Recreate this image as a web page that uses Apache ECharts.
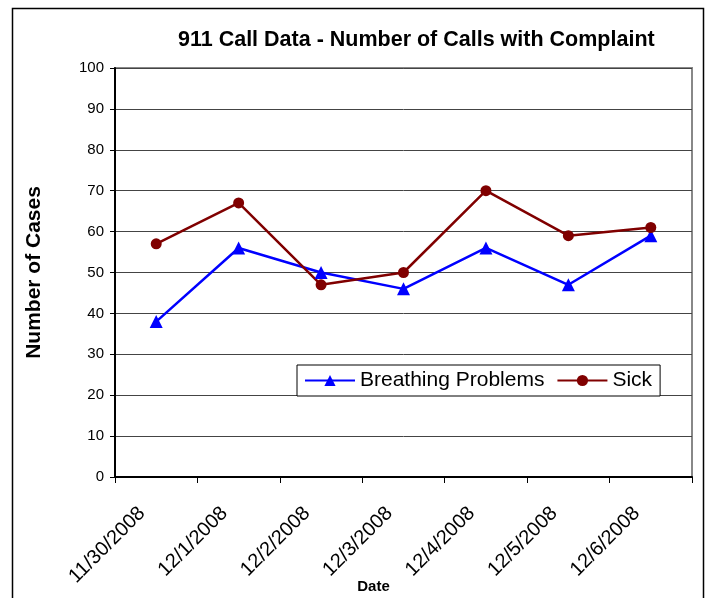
<!DOCTYPE html>
<html><head><meta charset="utf-8">
<script src="https://cdn.jsdelivr.net/npm/echarts@6/dist/echarts.min.js"></script>
<style>html,body{margin:0;padding:0;background:#fff}#c{width:706px;height:598px}</style>
</head><body><div id="c"></div>
<script>
const categories = ['11/30/2008','12/1/2008','12/2/2008','12/3/2008','12/4/2008','12/5/2008','12/6/2008'];
const breathing = [38, 56, 50, 46, 56, 47, 59];
const sick = [57, 67, 47, 50, 70, 59, 61];
const chart = echarts.init(document.getElementById('c'), null, {renderer:'canvas'});
const F = 'Arial, "Liberation Sans", sans-serif';
chart.setOption({
  animation:false,
  backgroundColor:'#fff',
  title:{text:'911 Call Data - Number of Calls with Complaint', left:173, top:24,
    textStyle:{fontFamily:F, fontSize:21.5, fontWeight:'bold', color:'#000'}},
  graphic:[
    {type:'polyline', shape:{points:[[12.5,598],[12.5,8.5],[703.5,8.5],[703.5,598]]}, style:{stroke:'#000', lineWidth:1.5, fill:null}}
  ],
  legend:{left:297, top:365, itemGap:12, padding:[5,8,5,7],
    borderColor:'#000', borderWidth:1, backgroundColor:'#fff',
    itemWidth:50, itemHeight:14,
    textStyle:{fontFamily:F, fontSize:21, color:'#000'},
    data:['Breathing Problems','Sick']},
  grid:{left:115, right:14, top:68, bottom:121, show:true, borderColor:'#888', borderWidth:2,
    backgroundColor:'transparent', outerBoundsMode:'none', containLabel:false},
  xAxis:{type:'category', data:categories, boundaryGap:true,
    name:'Date', nameLocation:'middle', nameGap:102, nameMoveOverlap:false,
    nameTextStyle:{fontFamily:F, fontSize:15, fontWeight:'bold', color:'#000', padding:[0,60,0,0]},
    axisLine:{lineStyle:{color:'#000', width:2}},
    axisTick:{show:true, alignWithLabel:false, length:6, lineStyle:{color:'#000'}},
    axisLabel:{rotate:45, margin:19, padding:[0,20,0,0], fontFamily:F, fontSize:20, color:'#000', interval:0},
    splitLine:{show:false}},
  yAxis:{type:'value', min:0, max:100, interval:10,
    name:'Number of Cases', nameLocation:'middle', nameGap:70,
    nameTextStyle:{fontFamily:F, fontSize:21, fontWeight:'bold', color:'#000'},
    axisLine:{show:true, lineStyle:{color:'#000', width:2}},
    axisTick:{show:true, length:5, lineStyle:{color:'#000'}},
    axisLabel:{margin:11, fontFamily:F, fontSize:15, color:'#000'},
    splitLine:{show:true, lineStyle:{color:'#444', width:1}}},
  series:[
    {name:'Breathing Problems', type:'line', data:breathing, color:'#0000FF',
      symbol:'triangle', symbolSize:13, lineStyle:{width:2.5, color:'#0000FF'}, itemStyle:{color:'#0000FF'}},
    {name:'Sick', type:'line', data:sick, color:'#800000',
      symbol:'circle', symbolSize:11, lineStyle:{width:2.5, color:'#800000'}, itemStyle:{color:'#800000'}}
  ]
});
</script></body></html>
